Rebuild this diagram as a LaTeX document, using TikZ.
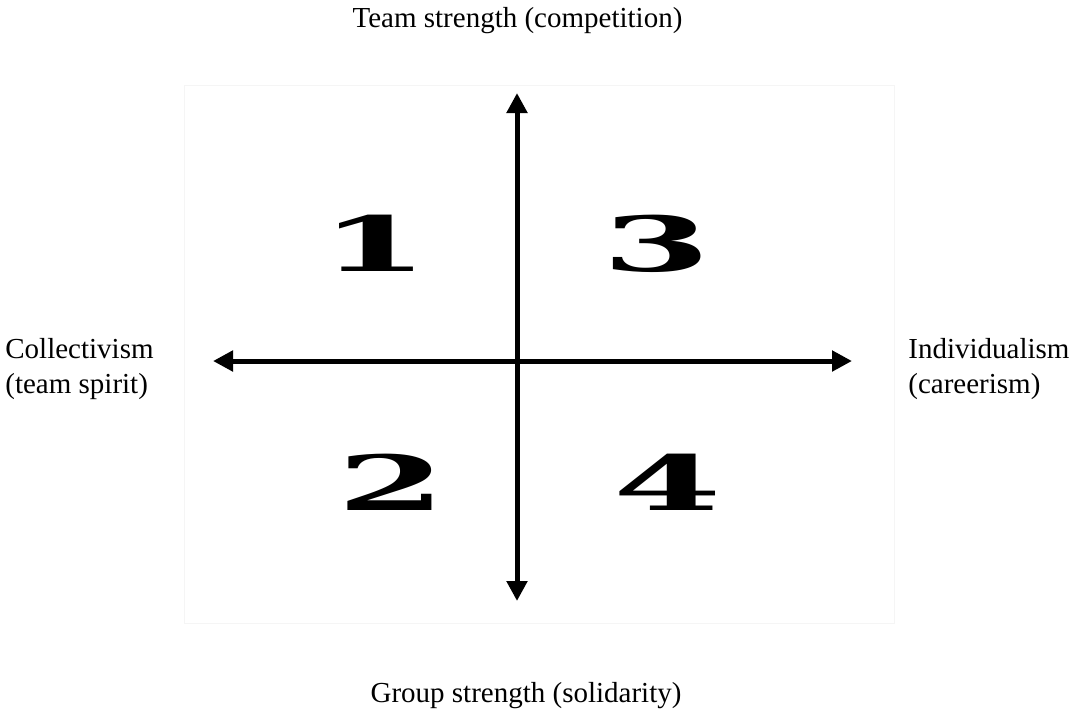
\documentclass[tikz,border=0pt]{standalone}
\usepackage{fontspec}
\setmainfont{Liberation Serif}
\newfontfamily\digitfont{DejaVu Serif}
\usetikzlibrary{arrows.meta}
\begin{document}
\begin{tikzpicture}[x=0.5pt, y=-0.5pt]
% quadrant chart, coordinates in pixels (y downwards)
\tikzset{
  axislabel/.style={font=\fontsize{14.5}{17.5}\selectfont, inner sep=0pt},
  quadnum/.style={font=\digitfont\bfseries\fontsize{38}{38}\selectfont, xscale=2.05, inner sep=0pt},
  axisline/.style={line width=2.5pt, {Triangle[width=10pt,length=10pt]}-{Triangle[width=10pt,length=10pt]}}
}
\useasboundingbox (0,0) rectangle (1070,714);
% faint frame of the chart area
\draw[black!4, line width=0.5pt] (184,85) rectangle (894,623);
% axes
\coordinate (up) at (517,93);
\coordinate (down) at (517,601);
\coordinate (west) at (213,361);
\coordinate (east) at (852,361);
\draw[axisline] (down) -- (up);
\draw[axisline] (west) -- (east);
% axis labels
\node[axislabel] (teamlbl) at (517.5,21) {Team strength (competition)};
\node[axislabel] (grouplbl) at (526,696) {Group strength (solidarity)};
\node[axislabel, anchor=west, align=left] (colllbl) at (5,369) {Collectivism\\(team spirit)};
\node[axislabel, anchor=west, align=left] (indivlbl) at (908,369) {Individualism\\(careerism)};
% quadrant numbers
\node[quadnum] (q1) at (375,243) {1};
\node[quadnum] (q3) at (657,244) {3};
\node[quadnum] (q2) at (392,482) {2};
\node[quadnum] (q4) at (668,482) {4};
\end{tikzpicture}
\end{document}
